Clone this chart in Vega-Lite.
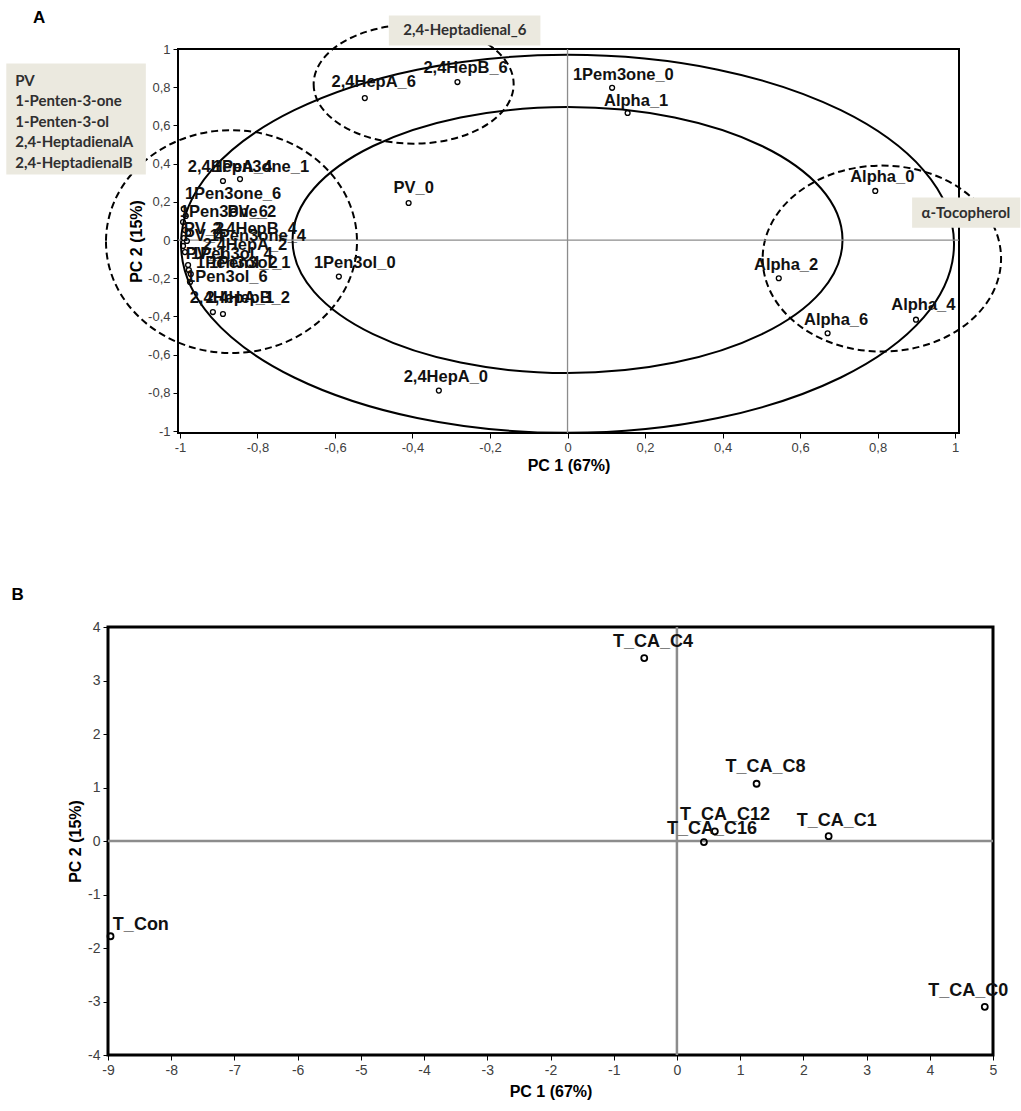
{
  "$schema": "https://vega.github.io/schema/vega-lite/v6.json",
  "padding": {"left": 5, "top": 8, "right": 0, "bottom": 0},
  "background": "white",
  "config": {
    "view": {"stroke": null},
    "font": "Liberation Sans",
    "axis": {"domain": false, "grid": false, "tickColor": "#000", "tickSize": 5, "tickWidth": 1, "labelFont": "Liberation Sans", "labelColor": "#404040", "labelFontSize": 13, "labelPadding": 3, "titleFont": "Liberation Sans", "titleFontWeight": "bold", "titleColor": "#000", "titleFontSize": 16, "labelFlush": false, "labelOverlap": false},
    "axisY": {"labelOverlap": false},
    "axisLeft": {"labelOverlap": false}
  },
  "datasets": {
    "pointsA": [
      {"label": "2,4HepA_6", "x": -0.523, "y": 0.743, "lx": -0.500, "ly": 0.825},
      {"label": "2,4HepB_6", "x": -0.284, "y": 0.827, "lx": -0.263, "ly": 0.903},
      {"label": "1Pem3one_0", "x": 0.115, "y": 0.797, "lx": 0.144, "ly": 0.864},
      {"label": "Alpha_1", "x": 0.155, "y": 0.665, "lx": 0.177, "ly": 0.728},
      {"label": "PV_0", "x": -0.410, "y": 0.194, "lx": -0.397, "ly": 0.272},
      {"label": "1Pen3ol_0", "x": -0.590, "y": -0.191, "lx": -0.549, "ly": -0.120},
      {"label": "2,4HepA_0", "x": -0.332, "y": -0.788, "lx": -0.314, "ly": -0.717},
      {"label": "Alpha_0", "x": 0.794, "y": 0.257, "lx": 0.812, "ly": 0.330},
      {"label": "Alpha_2", "x": 0.545, "y": -0.200, "lx": 0.564, "ly": -0.131},
      {"label": "Alpha_6", "x": 0.671, "y": -0.488, "lx": 0.693, "ly": -0.419},
      {"label": "Alpha_4", "x": 0.899, "y": -0.417, "lx": 0.918, "ly": -0.340},
      {"label": "2,4HepA_4", "x": -0.889, "y": 0.309, "lx": -0.871, "ly": 0.382},
      {"label": "1Pen3one_1", "x": -0.845, "y": 0.319, "lx": -0.791, "ly": 0.382},
      {"label": "1Pen3one_6", "x": -0.990, "y": 0.162, "lx": -0.863, "ly": 0.241},
      {"label": "1Pen3one_2", "x": -0.992, "y": 0.094, "lx": -0.876, "ly": 0.147},
      {"label": "PV_6", "x": -0.985, "y": 0.126, "lx": -0.825, "ly": 0.147},
      {"label": "PV_2", "x": -0.987, "y": 0.052, "lx": -0.938, "ly": 0.058},
      {"label": "2,4HepB_4", "x": -0.979, "y": 0.037, "lx": -0.807, "ly": 0.058},
      {"label": "PV_4", "x": -0.990, "y": 0.010, "lx": -0.938, "ly": 0.021},
      {"label": "1Pen3one_4", "x": -0.982, "y": -0.005, "lx": -0.799, "ly": 0.021},
      {"label": "2,4HepA_2", "x": -0.992, "y": -0.031, "lx": -0.832, "ly": -0.026},
      {"label": "1Pen3ol_4", "x": -0.987, "y": -0.063, "lx": -0.866, "ly": -0.073},
      {"label": "PV_1", "x": -0.979, "y": -0.131, "lx": -0.933, "ly": -0.073},
      {"label": "1Pen3ol_2", "x": -0.977, "y": -0.157, "lx": -0.853, "ly": -0.120},
      {"label": "1Pen3ol_1", "x": -0.972, "y": -0.178, "lx": -0.820, "ly": -0.120},
      {"label": "1Pen3ol_6", "x": -0.974, "y": -0.220, "lx": -0.879, "ly": -0.194},
      {"label": "2,4HepA_1", "x": -0.915, "y": -0.377, "lx": -0.866, "ly": -0.304},
      {"label": "2,4HepB_2", "x": -0.889, "y": -0.387, "lx": -0.825, "ly": -0.304}
    ],
    "boxesA": [
      {"x1": -0.461, "x2": -0.070, "y1": 1.175, "y2": 1.018},
      {"x1": -1.448, "x2": -1.088, "y1": 0.924, "y2": 0.343},
      {"x1": 0.889, "x2": 1.168, "y1": 0.223, "y2": 0.065}
    ],
    "boxTextA": [
      {"tx": -0.265, "ty": 1.097, "text": "2,4-Heptadienal_6"},
      {"tx": 1.028, "ty": 0.144, "text": "α-Tocopherol"}
    ],
    "boxListA": [
      {"tx": -1.425, "ty": 0.835, "text": ["PV", "1-Penten-3-one", "1-Penten-3-ol", "2,4-HeptadienalA", "2,4-HeptadienalB"]}
    ],
    "panelA": [{"tx": -1.363, "ty": 1.160, "text": "A"}],
    "panelB": [{"tx": -10.43, "ty": 4.60, "text": "B"}],
    "pointsB": [
      {"label": "T_CA_C4", "x": -0.517, "y": 3.42, "lx": -0.380, "ly": 3.72},
      {"label": "T_CA_C8", "x": 1.26, "y": 1.07, "lx": 1.40, "ly": 1.38},
      {"label": "T_CA_C12", "x": 0.60, "y": 0.18, "lx": 0.76, "ly": 0.486},
      {"label": "T_CA_C16", "x": 0.427, "y": -0.02, "lx": 0.554, "ly": 0.224},
      {"label": "T_CA_C1", "x": 2.40, "y": 0.09, "lx": 2.53, "ly": 0.374},
      {"label": "T_CA_C0", "x": 4.87, "y": -3.10, "lx": 4.61, "ly": -2.80},
      {"label": "T_Con", "x": -8.96, "y": -1.78, "lx": -8.48, "ly": -1.57}
    ]
  },
  "vconcat": [
    {
      "hconcat": [
        {"width": 70, "height": 384, "data": {"values": []}, "mark": "point"},
        {
          "width": 781,
          "height": 384,
          "view": {"stroke": "black", "strokeWidth": 2},
          "layer": [
            {
              "data": {"values": [{"x": 0, "y": -0.02}]},
              "mark": {"type": "point", "shape": "M -1 0 A 1 0.489 0 1 0 1 0 A 1 0.489 0 1 0 -1 0 Z", "size": 597529, "filled": false, "stroke": "black", "strokeWidth": 2, "opacity": 1},
              "encoding": {
                "x": {"field": "x", "type": "quantitative", "scale": {"domain": [-1.005, 1.01], "nice": false, "zero": false}, "axis": {"title": "PC 1 (67%)", "titlePadding": 3, "labelOverlap": false, "values": [-1, -0.9, -0.8, -0.7, -0.6, -0.5, -0.4, -0.3, -0.2, -0.1, 0, 0.1, 0.2, 0.3, 0.4, 0.5, 0.6, 0.7, 0.8, 0.9, 1], "labelExpr": "round(datum.value*10) % 2 != 0 ? '' : replace(toString(datum.value), '.', ',')"}},
                "y": {"field": "y", "type": "quantitative", "scale": {"domain": [-1.01, 1.0], "nice": false, "zero": false}, "axis": {"title": "PC 2 (15%)", "titlePadding": 3, "labelOverlap": false, "values": [-1, -0.8, -0.6, -0.4, -0.2, 0, 0.2, 0.4, 0.6, 0.8, 1], "labelExpr": "replace(toString(datum.value), '.', ',')"}}
              }
            },
            {
              "data": {"values": [{"x": 0, "y": 0}]},
              "mark": {"type": "point", "shape": "M -1 0 A 1 0.4836 0 1 0 1 0 A 1 0.4836 0 1 0 -1 0 Z", "size": 302500, "filled": false, "stroke": "black", "strokeWidth": 2, "opacity": 1},
              "encoding": {
                "x": {"field": "x", "type": "quantitative"},
                "y": {"field": "y", "type": "quantitative", "axis": {"title": "PC 2 (15%)", "titlePadding": 3, "labelOverlap": false, "values": [-1, -0.8, -0.6, -0.4, -0.2, 0, 0.2, 0.4, 0.6, 0.8, 1], "labelExpr": "replace(toString(datum.value), '.', ',')"}}
              }
            },
            {
              "data": {"values": [{"x": -0.867, "y": -0.008}]},
              "mark": {"type": "point", "shape": "M -1 0 A 1 0.888 0 1 0 1 0 A 1 0.888 0 1 0 -1 0 Z", "size": 63001, "filled": false, "stroke": "black", "strokeWidth": 2, "strokeDash": [7, 4], "opacity": 1},
              "encoding": {
                "x": {"field": "x", "type": "quantitative"},
                "y": {"field": "y", "type": "quantitative", "axis": {"title": "PC 2 (15%)", "titlePadding": 3, "labelOverlap": false, "values": [-1, -0.8, -0.6, -0.4, -0.2, 0, 0.2, 0.4, 0.6, 0.8, 1], "labelExpr": "replace(toString(datum.value), '.', ',')"}}
              }
            },
            {
              "data": {"values": [{"x": -0.397, "y": 0.816}]},
              "mark": {"type": "point", "shape": "M -1 0 A 1 0.595 0 1 0 1 0 A 1 0.595 0 1 0 -1 0 Z", "size": 40000, "filled": false, "stroke": "black", "strokeWidth": 2, "strokeDash": [7, 4], "opacity": 1},
              "encoding": {
                "x": {"field": "x", "type": "quantitative"},
                "y": {"field": "y", "type": "quantitative", "axis": {"title": "PC 2 (15%)", "titlePadding": 3, "labelOverlap": false, "values": [-1, -0.8, -0.6, -0.4, -0.2, 0, 0.2, 0.4, 0.6, 0.8, 1], "labelExpr": "replace(toString(datum.value), '.', ',')"}}
              }
            },
            {
              "data": {"values": [{"x": 0.811, "y": -0.097}]},
              "mark": {"type": "point", "shape": "M -1 0 A 1 0.780 0 1 0 1 0 A 1 0.780 0 1 0 -1 0 Z", "size": 56835, "filled": false, "stroke": "black", "strokeWidth": 2, "strokeDash": [7, 4], "opacity": 1},
              "encoding": {
                "x": {"field": "x", "type": "quantitative"},
                "y": {"field": "y", "type": "quantitative", "axis": {"title": "PC 2 (15%)", "titlePadding": 3, "labelOverlap": false, "values": [-1, -0.8, -0.6, -0.4, -0.2, 0, 0.2, 0.4, 0.6, 0.8, 1], "labelExpr": "replace(toString(datum.value), '.', ',')"}}
              }
            },
            {
              "data": {"values": [{"x": 0}]},
              "mark": {"type": "rule", "color": "#8c8c8c", "strokeWidth": 1.3},
              "encoding": {"x": {"field": "x", "type": "quantitative"}}
            },
            {
              "data": {"values": [{"y": 0}]},
              "mark": {"type": "rule", "color": "#8c8c8c", "strokeWidth": 1.3},
              "encoding": {"y": {"field": "y", "type": "quantitative", "axis": {"title": "PC 2 (15%)", "titlePadding": 3, "labelOverlap": false, "values": [-1, -0.8, -0.6, -0.4, -0.2, 0, 0.2, 0.4, 0.6, 0.8, 1], "labelExpr": "replace(toString(datum.value), '.', ',')"}}}
            },
            {
              "data": {"name": "pointsA"},
              "mark": {"type": "point", "shape": "circle", "filled": false, "stroke": "#000", "strokeWidth": 1.3, "size": 24, "opacity": 1},
              "encoding": {
                "x": {"field": "x", "type": "quantitative"},
                "y": {"field": "y", "type": "quantitative", "axis": {"title": "PC 2 (15%)", "titlePadding": 3, "labelOverlap": false, "values": [-1, -0.8, -0.6, -0.4, -0.2, 0, 0.2, 0.4, 0.6, 0.8, 1], "labelExpr": "replace(toString(datum.value), '.', ',')"}}
              }
            },
            {
              "data": {"name": "pointsA"},
              "mark": {"type": "text", "font": "Liberation Sans", "fontWeight": "bold", "fontSize": 16.5, "color": "#111", "align": "center", "baseline": "middle"},
              "encoding": {
                "x": {"field": "lx", "type": "quantitative"},
                "y": {"field": "ly", "type": "quantitative", "axis": {"title": "PC 2 (15%)", "titlePadding": 3, "labelOverlap": false, "values": [-1, -0.8, -0.6, -0.4, -0.2, 0, 0.2, 0.4, 0.6, 0.8, 1], "labelExpr": "replace(toString(datum.value), '.', ',')"}},
                "text": {"field": "label", "type": "nominal"}
              }
            },
            {
              "data": {"name": "boxesA"},
              "mark": {"type": "rect", "fill": "#ebe9df", "stroke": null},
              "encoding": {
                "x": {"field": "x1", "type": "quantitative"},
                "x2": {"field": "x2"},
                "y": {"field": "y1", "type": "quantitative", "axis": {"title": "PC 2 (15%)", "titlePadding": 3, "labelOverlap": false, "values": [-1, -0.8, -0.6, -0.4, -0.2, 0, 0.2, 0.4, 0.6, 0.8, 1], "labelExpr": "replace(toString(datum.value), '.', ',')"}},
                "y2": {"field": "y2"}
              }
            },
            {
              "data": {"name": "boxTextA"},
              "mark": {"type": "text", "font": "Lato", "fontWeight": "bold", "fontSize": 15, "color": "#2f2f2f", "align": "center", "baseline": "middle"},
              "encoding": {
                "x": {"field": "tx", "type": "quantitative"},
                "y": {"field": "ty", "type": "quantitative", "axis": {"title": "PC 2 (15%)", "titlePadding": 3, "labelOverlap": false, "values": [-1, -0.8, -0.6, -0.4, -0.2, 0, 0.2, 0.4, 0.6, 0.8, 1], "labelExpr": "replace(toString(datum.value), '.', ',')"}},
                "text": {"field": "text", "type": "nominal"}
              }
            },
            {
              "data": {"name": "boxListA"},
              "mark": {"type": "text", "font": "Lato", "fontWeight": "bold", "fontSize": 15, "color": "#2f2f2f", "align": "left", "baseline": "middle", "lineHeight": 20.5},
              "encoding": {
                "x": {"field": "tx", "type": "quantitative"},
                "y": {"field": "ty", "type": "quantitative", "axis": {"title": "PC 2 (15%)", "titlePadding": 3, "labelOverlap": false, "values": [-1, -0.8, -0.6, -0.4, -0.2, 0, 0.2, 0.4, 0.6, 0.8, 1], "labelExpr": "replace(toString(datum.value), '.', ',')"}},
                "text": {"field": "text", "type": "nominal"}
              }
            },
            {
              "data": {"name": "panelA"},
              "mark": {"type": "text", "font": "Liberation Sans", "fontWeight": "bold", "fontSize": 17, "color": "#000", "align": "center", "baseline": "middle"},
              "encoding": {
                "x": {"field": "tx", "type": "quantitative"},
                "y": {"field": "ty", "type": "quantitative", "axis": {"title": "PC 2 (15%)", "titlePadding": 3, "labelOverlap": false, "values": [-1, -0.8, -0.6, -0.4, -0.2, 0, 0.2, 0.4, 0.6, 0.8, 1], "labelExpr": "replace(toString(datum.value), '.', ',')"}},
                "text": {"field": "text", "type": "nominal"}
              }
            }
          ]
        }
      ],
      "spacing": 0,
      "bounds": "flush"
    },
    {
      "width": 885,
      "height": 428,
      "view": {"stroke": "black", "strokeWidth": 3},
      "data": {"name": "pointsB"},
      "layer": [
        {
          "data": {"values": [{"x": 0}]},
          "mark": {"type": "rule", "color": "#8c8c8c", "strokeWidth": 2.5},
          "encoding": {"x": {"field": "x", "type": "quantitative", "scale": {"domain": [-9, 5], "nice": false, "zero": false}, "axis": {"title": "PC 1 (67%)", "titlePadding": 6, "labelFontSize": 14, "labelOverlap": false, "values": [-9, -8.5, -8, -7.5, -7, -6.5, -6, -5.5, -5, -4.5, -4, -3.5, -3, -2.5, -2, -1.5, -1, -0.5, 0, 0.5, 1, 1.5, 2, 2.5, 3, 3.5, 4, 4.5, 5], "labelExpr": "datum.value % 1 != 0 ? '' : toString(datum.value)"}}}
        },
        {
          "data": {"values": [{"y": 0}]},
          "mark": {"type": "rule", "color": "#8c8c8c", "strokeWidth": 2.5},
          "encoding": {"y": {"field": "y", "type": "quantitative", "scale": {"domain": [-4, 4], "nice": false, "zero": false}, "axis": {"title": "PC 2 (15%)", "titlePadding": 4, "labelFontSize": 14, "labelOverlap": false, "values": [-4, -3.5, -3, -2.5, -2, -1.5, -1, -0.5, 0, 0.5, 1, 1.5, 2, 2.5, 3, 3.5, 4], "labelExpr": "datum.value % 1 != 0 ? '' : toString(datum.value)"}}}
        },
        {
          "mark": {"type": "point", "shape": "circle", "filled": false, "stroke": "#000", "strokeWidth": 1.8, "size": 36, "opacity": 1},
          "encoding": {
            "x": {"field": "x", "type": "quantitative"},
            "y": {"field": "y", "type": "quantitative"}
          }
        },
        {
          "mark": {"type": "text", "font": "Liberation Sans", "fontWeight": "bold", "fontSize": 18, "color": "#111", "align": "center", "baseline": "middle"},
          "encoding": {
            "x": {"field": "lx", "type": "quantitative"},
            "y": {"field": "ly", "type": "quantitative"},
            "text": {"field": "label", "type": "nominal"}
          }
        },
        {
          "data": {"name": "panelB"},
          "mark": {"type": "text", "font": "Liberation Sans", "fontWeight": "bold", "fontSize": 17, "color": "#000", "align": "center", "baseline": "middle"},
          "encoding": {
            "x": {"field": "tx", "type": "quantitative"},
            "y": {"field": "ty", "type": "quantitative"},
            "text": {"field": "text", "type": "nominal"}
          }
        }
      ]
    }
  ],
  "spacing": 578,
  "bounds": "flush"
}
